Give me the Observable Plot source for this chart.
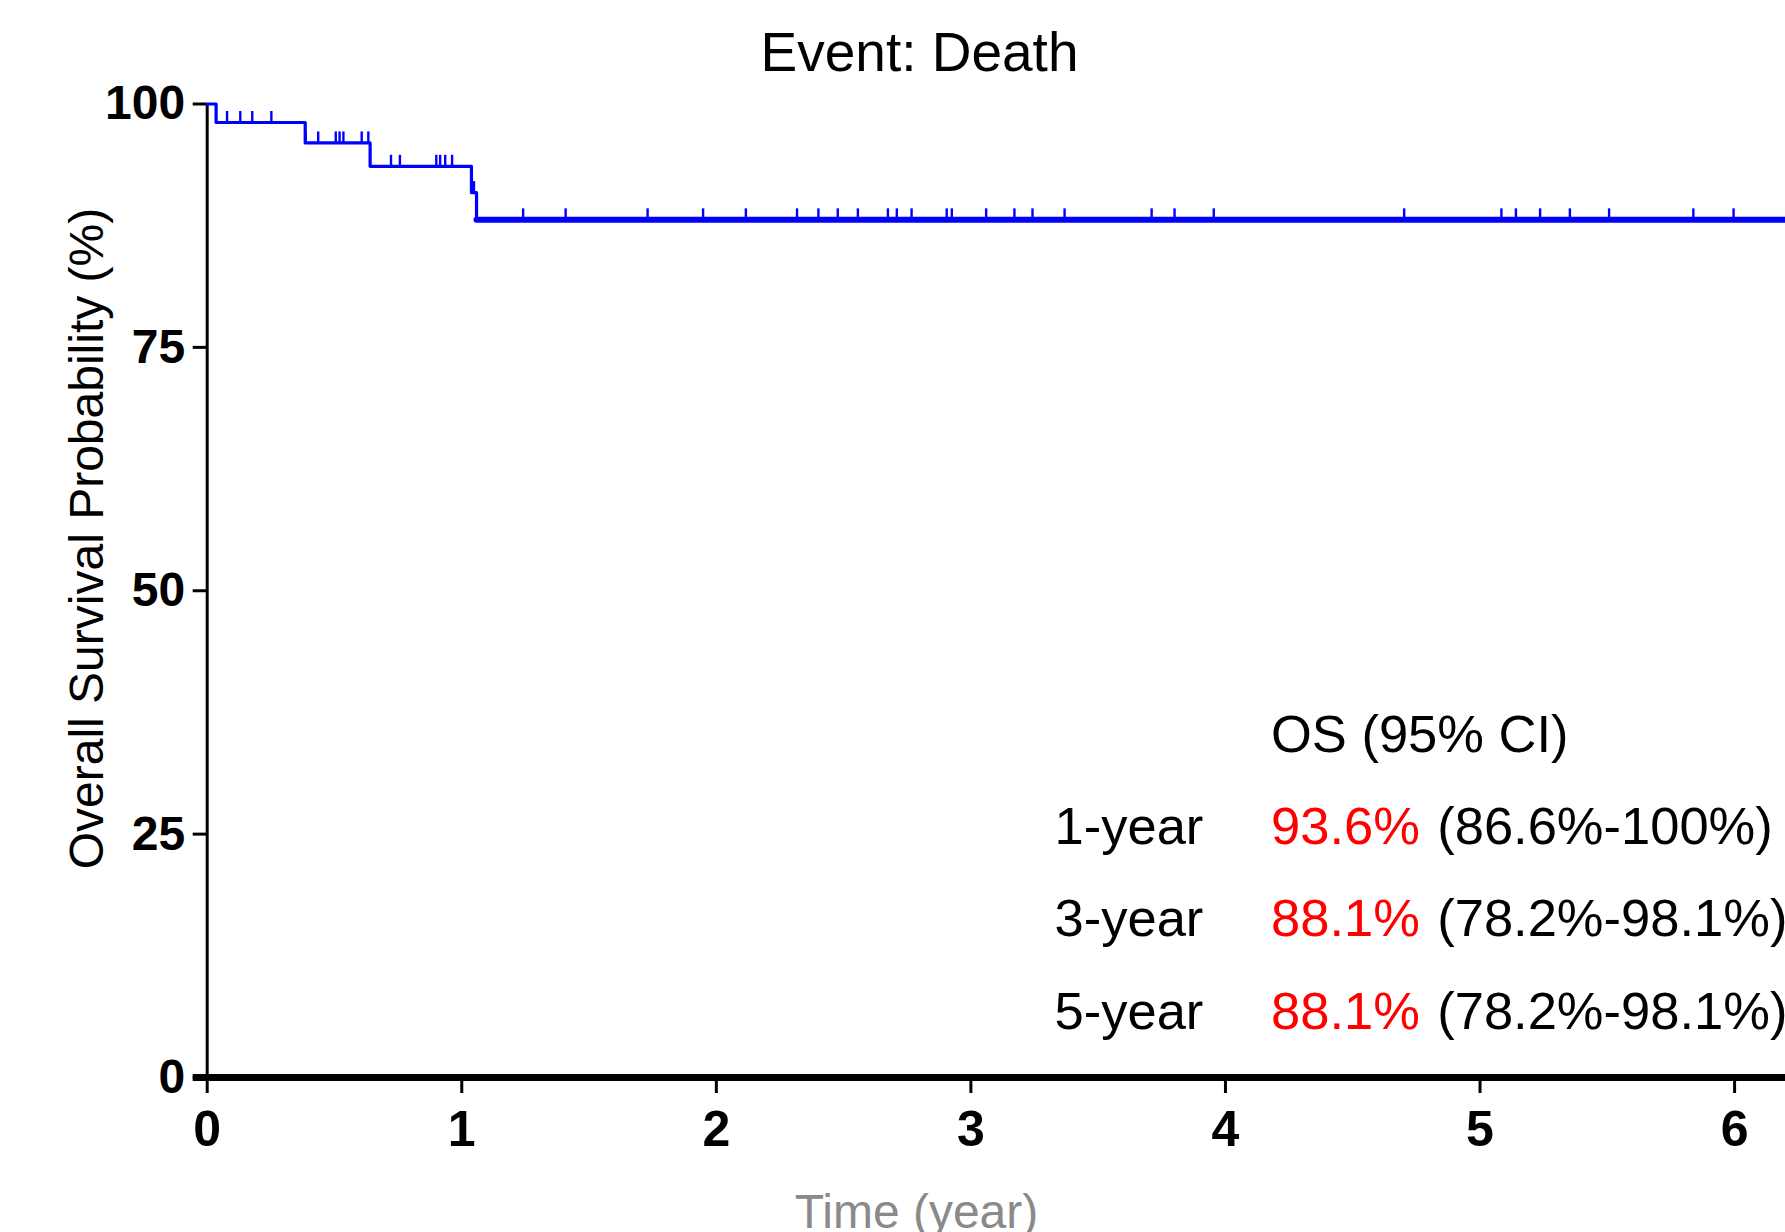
<!DOCTYPE html>
<html><head><meta charset="utf-8">
<script src="https://cdn.jsdelivr.net/npm/d3@7"></script>
<script src="https://cdn.jsdelivr.net/npm/@observablehq/plot@0.6"></script>
<style>
html,body{margin:0;padding:0;background:#fff;}
#chart svg{display:block;}
#chart svg [aria-label="y-axis tick label"] text,
#chart svg [aria-label="x-axis tick label"] text{font-weight:bold;}
</style></head><body><div id="chart"></div>
<script>
// ---- data ----
const titleText = "Event: Death";
const yLabel = "Overall Survival Probability (%)";
const xLabel = "Time (year)";
const xTicks = [0, 1, 2, 3, 4, 5, 6];
const yTicks = [0, 25, 50, 75, 100];

// Kaplan–Meier steps: event (death) times in years and survival (%) after each step
const eventTimes = [0, 0.035, 0.385, 0.64, 1.038, 1.058];
const survivalPct = [100, 98.1, 96.0, 93.6, 90.9, 88.1];
const lastFollowUp = 6.21;

// censored observations (years)
const censorTimes = [
  0.078, 0.130, 0.177, 0.252,
  0.387, 0.436, 0.505, 0.520, 0.535, 0.607, 0.633,
  0.722, 0.757, 0.900, 0.915, 0.935, 0.962,
  1.048,
  1.241, 1.408, 1.730, 1.948, 2.116, 2.317, 2.401, 2.477, 2.556, 2.674, 2.709, 2.767,
  2.905, 2.925, 3.060, 3.171, 3.242, 3.368, 3.710, 3.800, 3.954, 4.702,
  5.084, 5.141, 5.236, 5.353, 5.507, 5.838, 5.996
];

// annotation table
const osHeader = "OS (95% CI)";
const landmarks = ["1-year", "3-year", "5-year"];
const osEstimates = ["93.6%", "88.1%", "88.1%"];
const osCI = ["(86.6%-100%)", "(78.2%-98.1%)", "(78.2%-98.1%)"];

// ---- layout ----
const W = 1785, H = 1232;
const ML = 206.7, MT = 103.5, MB = 155, MR = 0;
const xMax = 6.2;
const font = "'Liberation Sans', Arial, Helvetica, sans-serif";
const blue = "#0000ff";

const kmPoints = eventTimes.map((t, i) => ({t, s: survivalPct[i]}));
kmPoints.push({t: lastFollowUp, s: survivalPct[survivalPct.length - 1]});
const lastEvent = eventTimes[eventTimes.length - 1];

function survivalAt(t) {
  let s = survivalPct[0];
  for (let i = 0; i < eventTimes.length; i++) if (eventTimes[i] <= t) s = survivalPct[i];
  return s;
}
const censored = censorTimes.map(t => ({t, s: survivalAt(t)}));

// annotation positions (pixels relative to the frame's top-left corner)
const colLabel = 1054 - ML, colEst = 1270.5 - ML, colCI = 1436.7 - ML;
const headerBase = 751 - MT;
const rowBase = [843.5 - MT, 935.8 - MT, 1028 - MT];
const annFont = 52.5;

const annMarks = [
  Plot.text([osHeader], {frameAnchor: "top-left", dx: colEst, dy: headerBase, lineAnchor: "bottom", textAnchor: "start", fontSize: annFont, fill: "#000"})
];
landmarks.forEach((lab, i) => {
  annMarks.push(Plot.text([lab], {frameAnchor: "top-left", dx: colLabel, dy: rowBase[i], lineAnchor: "bottom", textAnchor: "start", fontSize: annFont, fill: "#000"}));
  annMarks.push(Plot.text([osEstimates[i]], {frameAnchor: "top-left", dx: colEst, dy: rowBase[i], lineAnchor: "bottom", textAnchor: "start", fontSize: annFont, fill: "#ff0000"}));
  annMarks.push(Plot.text([osCI[i]], {frameAnchor: "top-left", dx: colCI, dy: rowBase[i], lineAnchor: "bottom", textAnchor: "start", fontSize: annFont, fill: "#000"}));
});

const frameMidX = (ML + W - MR) / 2;
const frameMidY = (MT + H - MB) / 2;

const chart = Plot.plot({
  width: W, height: H,
  marginLeft: ML, marginRight: MR, marginTop: MT, marginBottom: MB,
  style: {fontFamily: font, background: "#fff", color: "#000"},
  x: {domain: [0, xMax]},
  y: {domain: [0, 100]},
  marks: [
    Plot.axisY({ticks: yTicks, tickSize: 14, tickPadding: 8, fontSize: 48, fontWeight: "bold", strokeWidth: 3, label: null, tickFormat: d3.format("d")}),
    Plot.axisX({ticks: xTicks, tickSize: 16, tickPadding: 17, fontSize: 50, fontWeight: "bold", strokeWidth: 3, label: null, tickFormat: d3.format("d")}),
    Plot.ruleX([0], {stroke: "#000", strokeWidth: 3}),
    Plot.line(kmPoints, {x: "t", y: "s", curve: "step-after", stroke: blue, strokeWidth: 3.2}),
    Plot.line(kmPoints.filter(d => d.t >= lastEvent), {x: "t", y: "s", curve: "step-after", stroke: blue, strokeWidth: 6}),
    Plot.ruleX(censored, {x: "t", y1: "s", y2: "s", insetTop: 0, insetBottom: 11, stroke: blue, strokeWidth: 2.4}),
    Plot.ruleY([0], {stroke: "#000", strokeWidth: 7, insetLeft: -14}),
    Plot.text([titleText], {frameAnchor: "top", dx: 919 - frameMidX, dy: 70 - MT, lineAnchor: "bottom", textAnchor: "middle", fontSize: 55, fill: "#000"}),
    Plot.text([yLabel], {frameAnchor: "left", dx: 102 - ML, dy: 538 - frameMidY, rotate: -90, lineAnchor: "bottom", textAnchor: "middle", fontSize: 48, fill: "#000"}),
    Plot.text([xLabel], {frameAnchor: "bottom", dx: 916 - frameMidX, dy: 1227 - (H - MB), lineAnchor: "bottom", textAnchor: "middle", fontSize: 48, fill: "#8a8a8a"}),
    ...annMarks
  ]
});
document.getElementById("chart").appendChild(chart);
</script>
</body></html>
